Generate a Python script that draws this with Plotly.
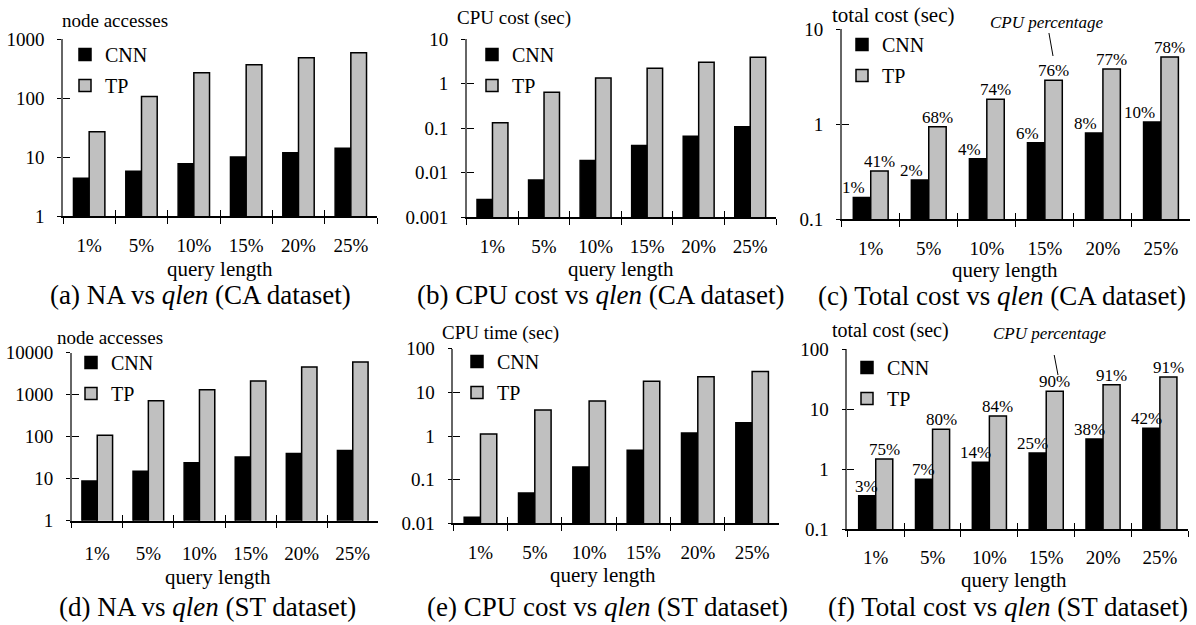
import plotly.graph_objects as go
import numpy as np

W, H = 1196, 625
FONT = "Liberation Serif, Times New Roman, serif"

categories = ["1%", "5%", "10%", "15%", "20%", "25%"]

# (a) node accesses, CA dataset
na_ca_cnn = [4.4, 5.8, 7.8, 10.1, 12.0, 14.2]
na_ca_tp = [27, 107, 272, 371, 486, 589]
# (b) CPU cost, CA dataset
cpu_ca_cnn = [0.0025, 0.0069, 0.019, 0.041, 0.066, 0.109]
cpu_ca_tp = [0.134, 0.644, 1.35, 2.23, 3.04, 3.94]
# (c) total cost, CA dataset
tot_ca_cnn = [0.17, 0.259, 0.434, 0.64, 0.81, 1.06]
tot_ca_tp = [0.322, 0.94, 1.83, 2.9, 3.82, 5.1]
pct_ca_cnn = ["1%", "2%", "4%", "6%", "8%", "10%"]
pct_ca_tp = ["41%", "68%", "74%", "76%", "77%", "78%"]
# (d) node accesses, ST dataset
na_st_cnn = [8.8, 15, 24, 32.8, 40, 47]
na_st_tp = [108, 720, 1315, 2115, 4560, 6000]
# (e) CPU time, ST dataset
cpu_st_cnn = [0.0137, 0.0495, 0.195, 0.47, 1.17, 2.02]
cpu_st_tp = [1.11, 3.94, 6.3, 17.9, 22.8, 30.2]
# (f) total cost, ST dataset
tot_st_cnn = [0.363, 0.679, 1.30, 1.86, 3.18, 4.79]
tot_st_tp = [1.48, 4.61, 7.69, 19.8, 25.5, 34.3]
pct_st_cnn = ["3%", "7%", "14%", "25%", "38%", "42%"]
pct_st_tp = ["75%", "80%", "84%", "90%", "91%", "91%"]

yticks_a = [1, 10, 100, 1000]
yticks_b = [0.001, 0.01, 0.1, 1, 10]
yticks_c = [0.1, 1, 10]
yticks_d = [1, 10, 100, 1000, 10000]
yticks_e = [0.01, 0.1, 1, 10, 100]
yticks_f = [0.1, 1, 10, 100]
ylabels_a = ["1", "10", "100", "1000"]
ylabels_b = ["0.001", "0.01", "0.1", "1", "10"]
ylabels_c = ["0.1", "1", "10"]
ylabels_d = ["1", "10", "100", "1000", "10000"]
ylabels_e = ["0.01", "0.1", "1", "10", "100"]
ylabels_f = ["0.1", "1", "10", "100"]

ytitles = ["node accesses", "CPU cost (sec)", "total cost (sec)",
           "node accesses", "CPU time (sec)", "total cost (sec)"]
captions = ["(a) NA vs <i>qlen</i> (CA dataset)",
            "(b) CPU cost vs <i>qlen</i> (CA dataset)",
            "(c) Total cost vs <i>qlen</i> (CA dataset)",
            "(d) NA vs <i>qlen</i> (ST dataset)",
            "(e) CPU cost vs <i>qlen</i> (ST dataset)",
            "(f) Total cost vs <i>qlen</i> (ST dataset)"]
xtitle = "query length"
series_names = ["CNN", "TP"]

panels = [
    dict(cnn=na_ca_cnn, tp=na_ca_tp, tv=yticks_a, tt=ylabels_a, so=11,
         px=(63, 377), py=(39.3, 216.3), ttl=(60, 20, 19), qx=(220, 269), cap=(200, 295), leg=(82, 57), pct=None),
    dict(cnn=cpu_ca_cnn, tp=cpu_ca_tp, tv=yticks_b, tt=ylabels_b, so=11,
         px=(466.7, 776), py=(39.3, 217.3), ttl=(455, 18, 19), qx=(621, 269), cap=(600, 295), leg=(489, 57), pct=None),
    dict(cnn=tot_ca_cnn, tp=tot_ca_tp, tv=yticks_c, tt=ylabels_c, so=11,
         px=(841.7, 1190), py=(29.3, 219.3), ttl=(830, 15, 21), qx=(1005, 270), cap=(1002, 296), leg=(859, 47),
         pct=(pct_ca_cnn, pct_ca_tp, -4)),
    dict(cnn=na_st_cnn, tp=na_st_tp, tv=yticks_d, tt=ylabels_d, so=15,
         px=(71.7, 378.3), py=(352.7, 520.7), ttl=(55, 337, 19), qx=(218, 577), cap=(207, 607), leg=(88, 365), pct=None),
    dict(cnn=cpu_st_cnn, tp=cpu_st_tp, tv=yticks_e, tt=ylabels_e, so=11,
         px=(453.3, 779.3), py=(348.7, 523.3), ttl=(440, 333, 19), qx=(603, 575), cap=(607, 607), leg=(474, 364), pct=None),
    dict(cnn=tot_st_cnn, tp=tot_st_tp, tv=yticks_f, tt=ylabels_f, so=10,
         px=(847.3, 1188.3), py=(349, 529.3), ttl=(830, 330, 20), qx=(1014, 580), cap=(1008, 607), leg=(864, 370),
         pct=(pct_st_cnn, pct_st_tp, 4)),
]

def fx(p):
    return p / W

def fy(p):
    return 1 - p / H

fig = go.Figure()
layout = dict(width=W, height=H, margin=dict(l=0, r=0, t=0, b=0, autoexpand=False),
              paper_bgcolor="white", plot_bgcolor="rgba(0,0,0,0)",
              barmode="group", bargap=0.4, bargroupgap=0,
              font=dict(family=FONT, size=19, color="black"))
annotations = []
n = len(panels)

for i, p in enumerate(panels):
    k = i + 1
    sx = "" if k == 1 else str(k)
    ko = k + n
    xa, ya = "x" + sx, "y" + sx
    xo, yo = "x" + str(ko), "y" + str(ko)
    lg = "legend" + sx
    lo = np.log10(p["tv"][0])
    hi = np.log10(p["tv"][-1])
    xdom = [fx(p["px"][0]), fx(p["px"][1])]
    ydom = [fy(p["py"][1]), fy(p["py"][0])]

    fig.add_trace(go.Bar(x=categories, y=p["cnn"], name=series_names[0], xaxis=xa, yaxis=ya,
                         marker=dict(color="black", line=dict(color="black", width=1.5)),
                         legend=lg, legendgroup="cnn%d" % k))
    fig.add_trace(go.Bar(x=categories, y=p["tp"], name=series_names[1], xaxis=xa, yaxis=ya,
                         marker=dict(color="#c0c0c0", line=dict(color="black", width=1.5)),
                         legend=lg, legendgroup="tp%d" % k))
    # invisible helper trace for overlay axes (crossing ticks)
    fig.add_trace(go.Scatter(x=[0], y=[p["tv"][0]], xaxis=xo, yaxis=yo, mode="markers",
                             marker=dict(opacity=0), showlegend=False, hoverinfo="skip"))

    bounds = [j - 0.5 for j in range(len(categories) + 1)]
    layout["xaxis" + sx] = dict(domain=xdom, anchor=ya, type="category", range=[-0.5, len(categories) - 0.5],
                                tickson="boundaries", ticks="outside", ticklen=6, tickwidth=1.2,
                                tickcolor="black", showline=True, linecolor="black", linewidth=1.5,
                                showgrid=False, zeroline=False, fixedrange=True, automargin=False,
                                tickfont=dict(family=FONT, size=19), ticklabelstandoff=p["so"])
    layout["yaxis" + sx] = dict(domain=ydom, anchor=xa, type="log", range=[lo, hi],
                                tickmode="array", tickvals=p["tv"], ticktext=p["tt"],
                                ticks="outside", ticklen=4, tickwidth=1.2, tickcolor="black",
                                showline=True, linecolor="#666666", linewidth=1.5, automargin=False,
                                showgrid=False, zeroline=False, fixedrange=True,
                                tickfont=dict(family=FONT, size=19), ticklabelstandoff=9)
    layout["xaxis" + str(ko)] = dict(overlaying=xa, anchor=ya, type="linear", range=[-0.5, len(categories) - 0.5],
                                     tickmode="array", tickvals=bounds, ticks="inside", ticklen=6,
                                     tickwidth=1.2, tickcolor="black", showticklabels=False, automargin=False,
                                     showline=False, showgrid=False, zeroline=False, fixedrange=True)
    layout["yaxis" + str(ko)] = dict(overlaying=ya, anchor=xa, type="log", range=[lo, hi],
                                     tickmode="array", tickvals=p["tv"], ticks="inside", ticklen=7,
                                     tickwidth=1.2, tickcolor="black", showticklabels=False, automargin=False,
                                     showline=False, showgrid=False, zeroline=False, fixedrange=True)
    layout[lg] = dict(x=fx(p["leg"][0] - 17), y=fy(p["leg"][1] - 22), xanchor="left", yanchor="top",
                      bgcolor="rgba(0,0,0,0)", borderwidth=0, tracegroupgap=2,
                      font=dict(family=FONT, size=20, color="black"))

    # y-axis title
    annotations.append(dict(text=ytitles[i], xref="paper", yref="paper", x=fx(p["ttl"][0]), y=fy(p["ttl"][1]),
                            xanchor="left", yanchor="middle", showarrow=False,
                            font=dict(family=FONT, size=p["ttl"][2])))
    # x-axis title
    annotations.append(dict(text=xtitle, xref="paper", yref="paper", x=fx(p["qx"][0]), y=fy(p["qx"][1]),
                            xanchor="center", yanchor="middle", showarrow=False,
                            font=dict(family=FONT, size=21)))
    # caption
    annotations.append(dict(text=captions[i], xref="paper", yref="paper", x=fx(p["cap"][0]), y=fy(p["cap"][1]),
                            xanchor="center", yanchor="middle", showarrow=False,
                            font=dict(family=FONT, size=27)))
    # percentage labels
    if p["pct"] is not None:
        pc, pt, shift = p["pct"]
        cw = (p["px"][1] - p["px"][0]) / len(categories)
        half = cw * (1 - 0.4) / 4
        for j, c in enumerate(categories):
            annotations.append(dict(text=pc[j], xref=xa, yref=ya, x=c, y=np.log10(p["cnn"][j]),
                                    xanchor="right", yanchor="bottom", xshift=shift, yshift=-2,
                                    showarrow=False, font=dict(family=FONT, size=17)))
            annotations.append(dict(text=pt[j], xref=xa, yref=ya, x=c, y=np.log10(p["tp"][j]),
                                    xanchor="center", yanchor="bottom", xshift=half, yshift=-2,
                                    showarrow=False, font=dict(family=FONT, size=17)))

# "CPU percentage" callouts
annotations.append(dict(text="<i>CPU percentage</i>", xref="paper", yref="paper", x=fx(1053), y=fy(56),
                        ax=-6, ay=-34, showarrow=True, arrowhead=0, arrowwidth=1, arrowcolor="black",
                        borderpad=1, font=dict(family=FONT, size=17)))
annotations.append(dict(text="<i>CPU percentage</i>", xref="paper", yref="paper", x=fx(1058), y=fy(375),
                        ax=-8, ay=-42, showarrow=True, arrowhead=0, arrowwidth=1, arrowcolor="black",
                        borderpad=12, font=dict(family=FONT, size=17)))

layout["annotations"] = annotations
fig.update_layout(**layout)
fig.write_html("out.html",
               post_script="document.body.style.margin='0px';document.body.style.overflow='hidden';")
